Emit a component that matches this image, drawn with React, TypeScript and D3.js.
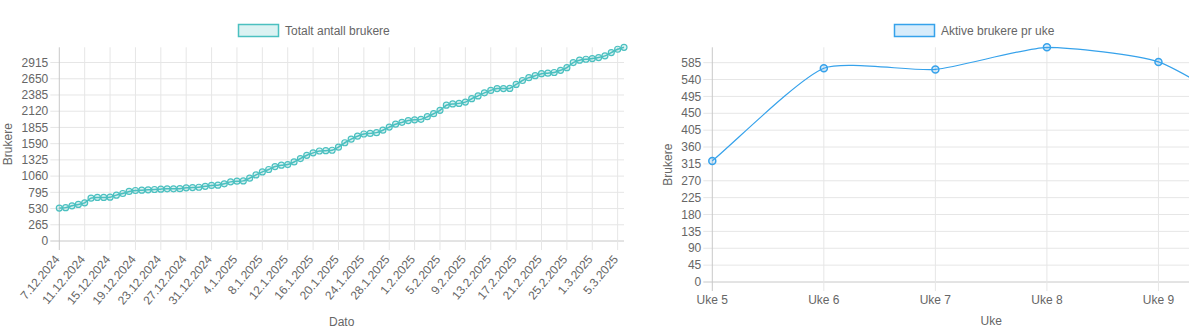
import React from "react";
import * as d3 from "d3";

// ---------- DATA ----------
const dates: string[] = [
  "7.12.2024","8.12.2024","9.12.2024","10.12.2024","11.12.2024","12.12.2024","13.12.2024","14.12.2024","15.12.2024","16.12.2024",
  "17.12.2024","18.12.2024","19.12.2024","20.12.2024","21.12.2024","22.12.2024","23.12.2024","24.12.2024","25.12.2024","26.12.2024",
  "27.12.2024","28.12.2024","29.12.2024","30.12.2024","31.12.2024",
  "1.1.2025","2.1.2025","3.1.2025","4.1.2025","5.1.2025","6.1.2025","7.1.2025","8.1.2025","9.1.2025","10.1.2025",
  "11.1.2025","12.1.2025","13.1.2025","14.1.2025","15.1.2025","16.1.2025","17.1.2025","18.1.2025","19.1.2025","20.1.2025",
  "21.1.2025","22.1.2025","23.1.2025","24.1.2025","25.1.2025","26.1.2025","27.1.2025","28.1.2025","29.1.2025","30.1.2025","31.1.2025",
  "1.2.2025","2.2.2025","3.2.2025","4.2.2025","5.2.2025","6.2.2025","7.2.2025","8.2.2025","9.2.2025","10.2.2025",
  "11.2.2025","12.2.2025","13.2.2025","14.2.2025","15.2.2025","16.2.2025","17.2.2025","18.2.2025","19.2.2025","20.2.2025",
  "21.2.2025","22.2.2025","23.2.2025","24.2.2025","25.2.2025","26.2.2025","27.2.2025","28.2.2025",
  "1.3.2025","2.3.2025","3.3.2025","4.3.2025","5.3.2025","6.3.2025",
];

const totalUsers: number[] = [
  537, 545, 575, 597, 624, 700, 711, 711, 716, 749,
  776, 809, 825, 830, 836, 841, 847, 852, 852, 855,
  868, 872, 878, 893, 907, 912, 934, 966, 977, 982,
  1026, 1080, 1129, 1168, 1216, 1238, 1249, 1291, 1347, 1400,
  1440, 1470, 1476, 1482, 1533, 1605, 1664, 1712, 1748, 1758,
  1770, 1810, 1861, 1908, 1938, 1967, 1979, 1987, 2030, 2079,
  2135, 2218, 2239, 2248, 2269, 2324, 2370, 2420, 2460, 2490,
  2490, 2493, 2557, 2622, 2668, 2700, 2733, 2741, 2752, 2788,
  2831, 2915, 2953, 2969, 2980, 2996, 3024, 3078, 3132, 3164,
];

const weeks: string[] = ["Uke 5", "Uke 6", "Uke 7", "Uke 8", "Uke 9", "Uke 10"];
const activeUsers: number[] = [323, 570, 567, 626, 587, 420];

const leftYTicks: number[] = [0, 265, 530, 795, 1060, 1325, 1590, 1855, 2120, 2385, 2650, 2915];
const rightYTicks: number[] = [0, 45, 90, 135, 180, 225, 270, 315, 360, 405, 450, 495, 540, 585];
const leftXTickEvery = 4;

const leftLegend = "Totalt antall brukere";
const rightLegend = "Aktive brukere pr uke";

// ---------- STYLE ----------
const W = 1189, H = 335;
const FONT = "'Liberation Sans', Arial, Helvetica, sans-serif";
const TXT = "#666";
const GRID = "#e6e6e6";
const AXIS = "#c8c8c8";
const TEAL = "rgb(75,192,192)";
const TEAL_F = "rgba(75,192,192,0.2)";
const BLUE = "rgb(54,162,235)";
const BLUE_F = "rgba(54,162,235,0.2)";
const TENSION = 0.2;

type P = [number, number];

// Chart.js-style spline
function splinePath(pts: P[], t: number, area: { l: number; r: number; top: number; b: number }) {
  const n = pts.length;
  const cps = pts.map((cur, i) => {
    const prev = pts[i - 1] || cur;
    const next = pts[i + 1] || cur;
    const d01 = Math.hypot(cur[0] - prev[0], cur[1] - prev[1]);
    const d12 = Math.hypot(next[0] - cur[0], next[1] - cur[1]);
    let s01 = d01 / (d01 + d12);
    let s12 = d12 / (d01 + d12);
    if (!isFinite(s01)) s01 = 0;
    if (!isFinite(s12)) s12 = 0;
    const fa = t * s01, fb = t * s12;
    const clampX = (x: number) => Math.max(area.l, Math.min(area.r, x));
    const clampY = (y: number) => Math.max(area.top, Math.min(area.b, y));
    return {
      prev: [clampX(cur[0] - fa * (next[0] - prev[0])), clampY(cur[1] - fa * (next[1] - prev[1]))] as P,
      next: [clampX(cur[0] + fb * (next[0] - prev[0])), clampY(cur[1] + fb * (next[1] - prev[1]))] as P,
    };
  });
  const p = d3.path();
  p.moveTo(pts[0][0], pts[0][1]);
  for (let i = 1; i < n; i++) {
    const a = cps[i - 1].next, b = cps[i].prev;
    p.bezierCurveTo(a[0], a[1], b[0], b[1], pts[i][0], pts[i][1]);
  }
  return p.toString();
}

function LeftChart() {
  const L = 59.3, R = 624, T = 47.3, B = 241;
  const x = d3.scalePoint<string>().domain(dates).range([L, R]);
  const y = d3.scaleLinear().domain([0, d3.max(totalUsers) as number]).range([B, T]);
  const pts: P[] = totalUsers.map((v, i) => [x(dates[i]) as number, y(v)]);
  const xTicks = dates.filter((_, i) => i % leftXTickEvery === 0);
  return (
    <g>
      <rect x={238.5} y={24.5} width={40} height={12} fill={TEAL_F} stroke={TEAL} strokeWidth={1.5} />
      <text x={285} y={34.5} fontSize={12} fill={TXT}>{leftLegend}</text>
      {leftYTicks.map((v) => (
        <g key={"hy" + v}>
          <line x1={L - 9} x2={R} y1={y(v)} y2={y(v)} stroke={v === 0 ? AXIS : GRID} strokeWidth={1} />
          <text x={L - 11} y={y(v)} dy="0.35em" textAnchor="end" fontSize={12} fill={TXT}>{v}</text>
        </g>
      ))}
      {xTicks.map((d, i) => (
        <g key={"vx" + d}>
          <line x1={x(d)} x2={x(d)} y1={T} y2={B + 9} stroke={i === 0 ? AXIS : GRID} strokeWidth={1} />
          <text
            transform={`translate(${(x(d) as number) - 2},${B + 16}) rotate(-50)`}
            textAnchor="end"
            dominantBaseline="central"
            fontSize={12}
            fill={TXT}
          >{d}</text>
        </g>
      ))}
      <text transform={`translate(11.5,${(T + B) / 2}) rotate(-90)`} textAnchor="middle" fontSize={12} fill={TXT}>Brukere</text>
      <text x={(L + R) / 2} y={325.5} textAnchor="middle" fontSize={12} fill={TXT}>Dato</text>
      <path d={splinePath(pts, TENSION, { l: L, r: R, top: T, b: B })} fill="none" stroke={TEAL} strokeWidth={1.5} />
      {pts.map((p, i) => (
        <circle key={i} cx={p[0]} cy={p[1]} r={3} fill={TEAL_F} stroke={TEAL} strokeWidth={1.2} />
      ))}
    </g>
  );
}

function RightChart() {
  const L = 712.3, R = 1270, T = 47.3, B = 282;
  const x = d3.scalePoint<string>().domain(weeks).range([L, R]);
  const y = d3.scaleLinear().domain([0, d3.max(activeUsers) as number]).range([B, T]);
  const pts: P[] = activeUsers.map((v, i) => [x(weeks[i]) as number, y(v)]);
  return (
    <g>
      <rect x={894.5} y={24.5} width={40} height={12} fill={BLUE_F} stroke={BLUE} strokeWidth={1.5} />
      <text x={941} y={34.5} fontSize={12} fill={TXT}>{rightLegend}</text>
      {rightYTicks.map((v) => (
        <g key={"hy" + v}>
          <line x1={L - 9} x2={R} y1={y(v)} y2={y(v)} stroke={v === 0 ? AXIS : GRID} strokeWidth={1} />
          <text x={L - 11} y={y(v)} dy="0.35em" textAnchor="end" fontSize={12} fill={TXT}>{v}</text>
        </g>
      ))}
      {weeks.map((w, i) => {
        const xp = x(w) as number;
        return (
          <g key={"vx" + w}>
            <line x1={xp} x2={xp} y1={T} y2={B + 9} stroke={i === 0 ? AXIS : GRID} strokeWidth={1} />
            {xp + 20 < W && (
              <text x={xp} y={304} textAnchor="middle" fontSize={12} fill={TXT}>{w}</text>
            )}
          </g>
        );
      })}
      <text transform={`translate(671.5,${(T + B) / 2}) rotate(-90)`} textAnchor="middle" fontSize={12} fill={TXT}>Brukere</text>
      <text x={(L + R) / 2} y={325} textAnchor="middle" fontSize={12} fill={TXT}>Uke</text>
      <path d={splinePath(pts, TENSION, { l: L, r: R, top: T, b: B })} fill="none" stroke={BLUE} strokeWidth={1.2} />
      {pts.map((p, i) => (
        <circle key={i} cx={p[0]} cy={p[1]} r={3.5} fill={BLUE_F} stroke={BLUE} strokeWidth={1.5} />
      ))}
    </g>
  );
}

export default function App() {
  return (
    <svg
      width={W}
      height={H}
      style={{ position: "absolute", left: 0, top: 0, display: "block", overflow: "hidden" }}
      fontFamily={FONT}
    >
      <rect width={W} height={H} fill="#fff" />
      <LeftChart />
      <RightChart />
    </svg>
  );
}
